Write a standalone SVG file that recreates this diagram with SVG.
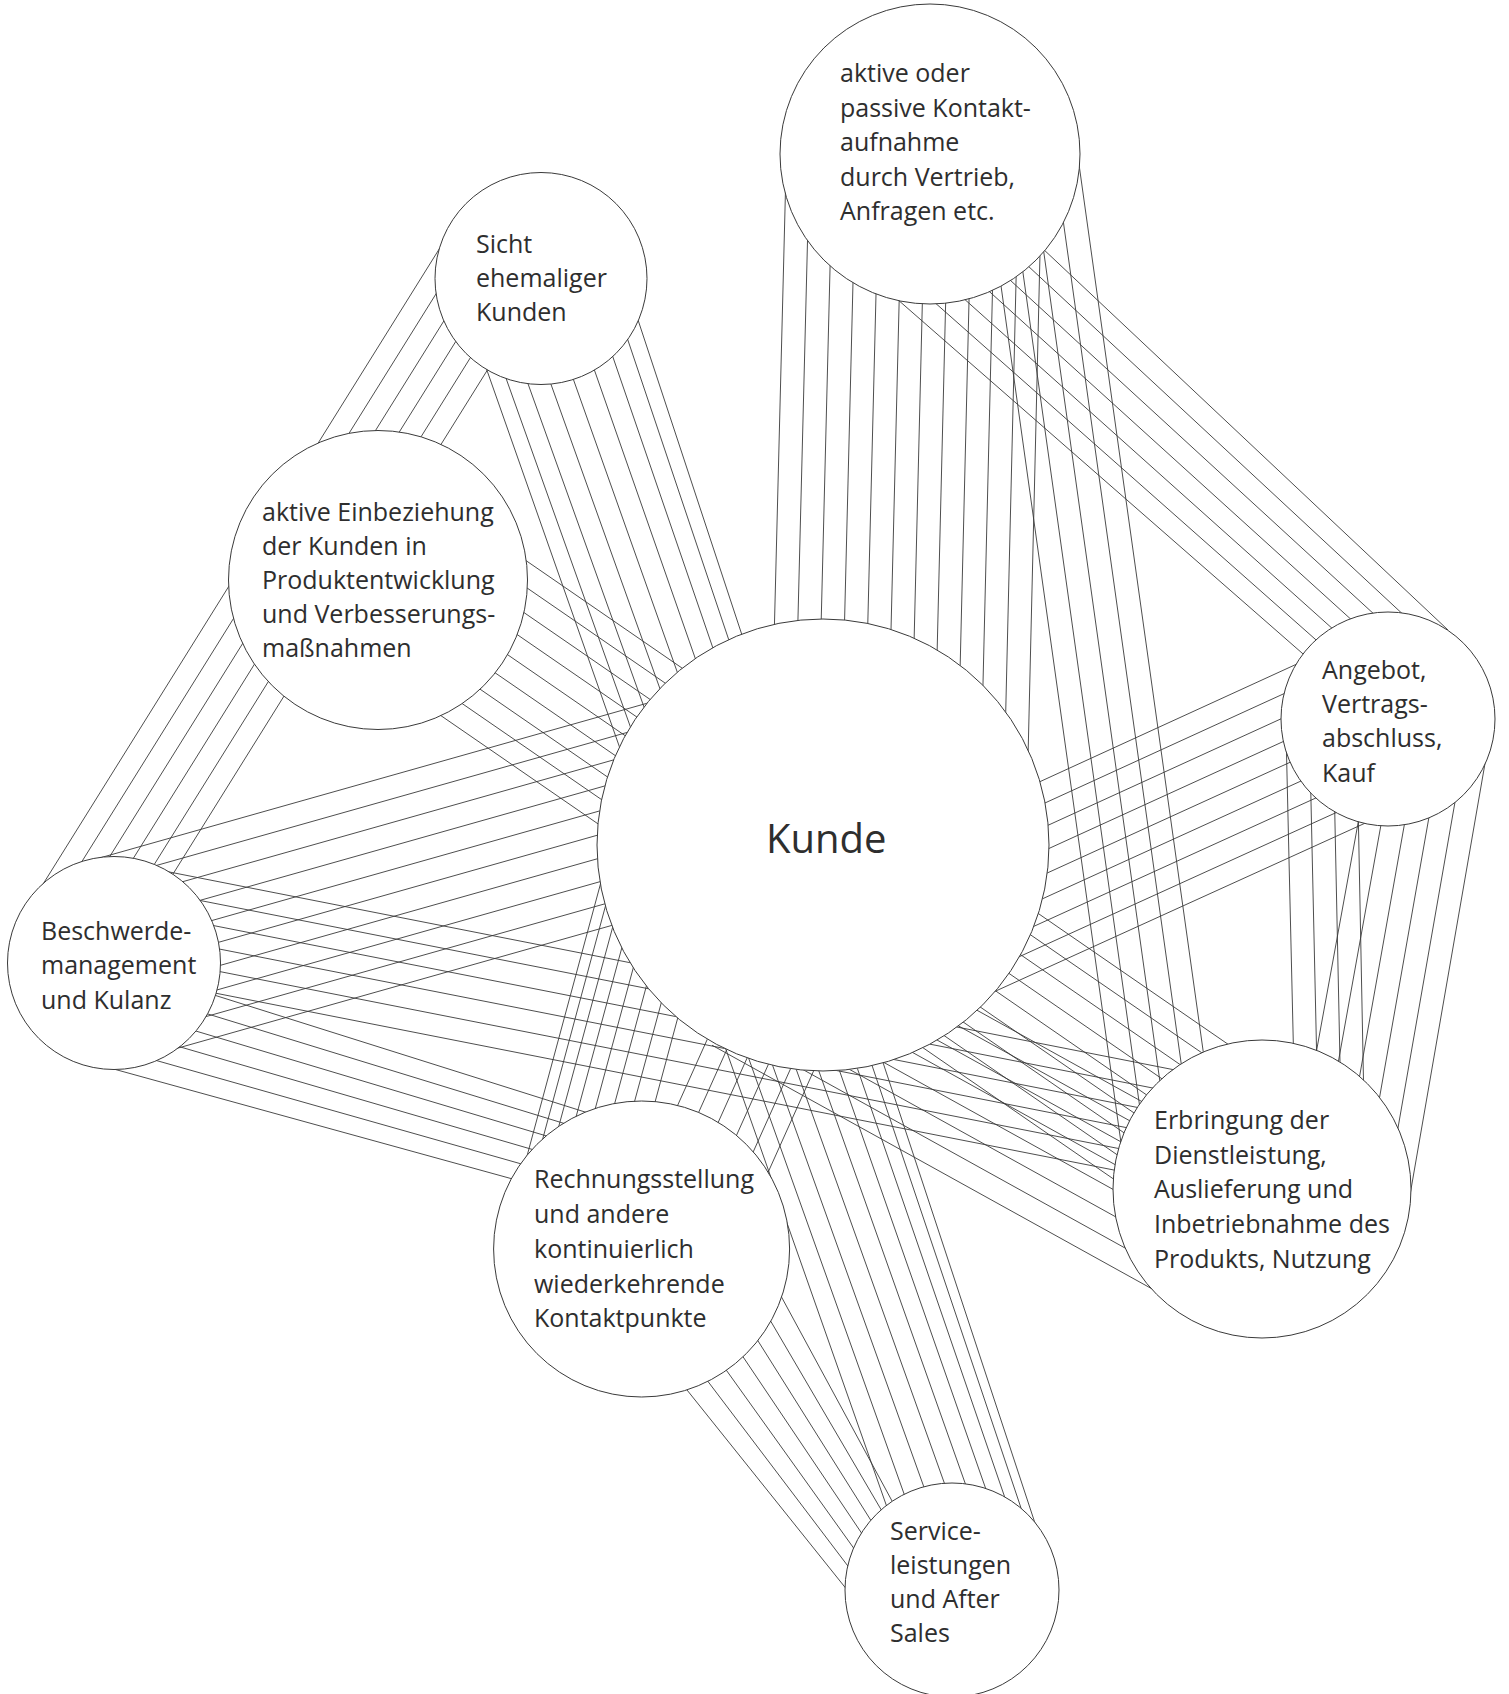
<svg xmlns="http://www.w3.org/2000/svg" width="1509" height="1694" viewBox="0 0 1509 1694">
<style>
.c{fill:none;stroke:#3a3a3a;stroke-width:0.9}
.n{fill:#fff;stroke:#3a3a3a;stroke-width:1}
.t{font-family:"Open Sans","Noto Sans","Liberation Sans",sans-serif;font-size:25px;fill:#2e2e2e}
.k{font-family:"Open Sans","Noto Sans","Liberation Sans",sans-serif;font-size:40px;fill:#2e2e2e}
</style>
<rect width="1509" height="1694" fill="#fff"/>
<g id="connectors">
<path id="tk" class="c" d="M786 170L770 800M809.3 170L793.4 800M832.5 170L816.7 800M855.8 170L840.1 800M879.1 170L863.4 800M902.4 170L886.8 800M925.6 170L910.2 800M948.9 170L933.5 800M972.2 170L956.9 800M995.4 170L980.2 800M1018.7 170L1003.6 800M1042 170L1027 800"/>
<path id="ta" class="c" d="M873 278L1326 674M898.2 270.2L1346.3 666.7M923.3 262.3L1366.7 659.3M948.5 254.5L1387 652M973.7 246.7L1407.3 644.7M998.8 238.8L1427.7 637.3M1024 231L1448 630"/>
<path id="td" class="c" d="M983.4 160L1123.4 1160M1007.2 160L1147.2 1160M1030.9 160L1170.9 1160M1054.7 160L1194.7 1160M1078.4 160L1218.4 1160"/>
<path id="ak" class="c" d="M1322 652.5L1003.6 798.3M1328.9 673.1L998.8 824.1M1335.8 693.8L993.9 850M1342.7 714.4L989.1 875.8M1349.7 735.1L984.3 901.7M1356.6 755.7L979.5 927.5M1363.5 776.3L974.6 953.3M1370.4 797L969.8 979.2M1377.3 817.6L965 1005"/>
<path id="ad1" class="c" d="M1286.2 740L1294 1073M1310.1 760.6L1317.3 1084.2M1334.1 781.1L1340.7 1095.5M1358 801.7L1364 1106.7"/>
<path id="ad2" class="c" d="M1361.9 802L1311.3 1079.5M1387 791.3L1331 1102.6M1412.2 780.6L1350.8 1125.7M1437.3 769.9L1370.5 1148.8M1462.5 759.2L1390.3 1171.9M1487.6 748.5L1410 1195"/>
<path id="kd" class="c" d="M712 1045.2L1193.8 1312M723 1025.3L1204.8 1292.2M734.1 1005.5L1215.8 1272.3M745.1 985.6L1226.8 1252.4M756.1 965.8L1237.8 1232.6M767.1 945.9L1248.9 1212.7M778.1 926L1259.9 1192.9M789.1 906.2L1270.9 1173"/>
<path id="sb" class="c" d="M454.5 224.5L27.5 909M472.3 235.7L45.3 920.2M490.1 246.8L63.1 931.3M507.9 257.9L80.9 942.4M525.7 269L98.7 953.5M543.5 280.1L116.5 964.6"/>
<path id="sv" class="c" d="M483.4 360.2L887.1 1507.5M503.5 371.2L904.9 1496.2M525.7 377.3L924.5 1488.7M548.8 378.2L945.1 1485.2M571.4 373.8L966.1 1485.9M592.4 364.3L986.5 1490.9M610.6 350.3L1005.6 1499.7M625.3 332.4L1022.4 1512.1M635.3 311.7L1036.5 1527.7"/>
<path id="ed" class="c" d="M434.7 497.7L1318.7 1106.7M422.3 515.8L1306.3 1124.8M409.8 533.9L1293.8 1142.9M397.3 552L1281.3 1161M384.8 570.1L1268.8 1179.1M372.3 588.2L1256.3 1197.2M359.9 606.4L1243.9 1215.4M347.4 624.5L1231.4 1233.5M334.9 642.6L1218.9 1251.6"/>
<path id="bk" class="c" d="M85.4 862L772.4 667.8M91.6 883.8L778.6 689.6M97.8 905.7L784.8 711.5M104 927.5L791 733.3M110.1 949.3L797.1 755.1M116.3 971.2L803.3 777M122.5 993L809.5 798.8M128.7 1014.9L815.7 820.7M134.8 1036.7L821.8 842.5M141 1058.5L828 864.3"/>
<path id="br" class="c" d="M110 1068L534 1184.9M127 1052.2L548 1171.5M144 1036.4L562 1158.1M161 1020.6L576 1144.8M178 1004.8L590 1131.4M195 989L604 1118"/>
<path id="bd" class="c" d="M133.3 864.9L1281.3 1090.9M129.1 886.5L1277.1 1112.5M124.8 908.1L1272.8 1134.1M120.6 929.6L1268.6 1155.6M116.3 951.2L1264.3 1177.2M112.1 972.8L1260.1 1198.8"/>
<path id="rk" class="c" d="M799.3 834.4L617.9 1238.4M819.4 843.4L638 1247.4M839.4 852.4L658 1256.4M859.5 861.4L678.1 1265.4M879.6 870.4L698.2 1274.4M899.6 879.4L718.2 1283.4"/>
<path id="rk2" class="c" d="M608.5 854.2L520.8 1179M613.5 876.2L536.5 1162M620.7 897.5L552.1 1151M629.9 918L569.5 1141M641.4 937.8L588.8 1132.5M654.5 956L608.2 1127.5M669.4 972.8L628.1 1125.3M685.8 988.1L648.7 1125.6"/>
<path id="rv" class="c" d="M675 1375L860 1606M691.7 1360L866.3 1590.3M708.3 1345L872.7 1574.7M725 1330L879 1559M741.7 1315L885.3 1543.3M758.3 1300L891.7 1527.7M775 1285L898 1512"/>
</g>
<g id="node-kontakt"><circle class="n" cx="930" cy="154" r="150"/>
<text class="t"><tspan x="840" y="82">aktive oder</tspan><tspan x="840" y="117">passive Kontakt-</tspan><tspan x="840" y="151">aufnahme</tspan><tspan x="840" y="186">durch Vertrieb,</tspan><tspan x="840" y="220">Anfragen etc.</tspan></text></g>
<g id="node-sicht"><circle class="n" cx="541" cy="278.5" r="106"/>
<text class="t"><tspan x="476" y="253">Sicht</tspan><tspan x="476" y="287">ehemaliger</tspan><tspan x="476" y="321">Kunden</tspan></text></g>
<g id="node-einbeziehung"><circle class="n" cx="378" cy="580" r="149.5"/>
<text class="t"><tspan x="262" y="521">aktive Einbeziehung</tspan><tspan x="262" y="555">der Kunden in</tspan><tspan x="262" y="589">Produktentwicklung</tspan><tspan x="262" y="623">und Verbesserungs-</tspan><tspan x="262" y="657">maßnahmen</tspan></text></g>
<g id="node-beschwerde"><circle class="n" cx="114" cy="963" r="106.5"/>
<text class="t"><tspan x="41" y="940">Beschwerde-</tspan><tspan x="41" y="974">management</tspan><tspan x="41" y="1009">und Kulanz</tspan></text></g>
<g id="node-rechnung"><circle class="n" cx="641.6" cy="1249" r="148"/>
<text class="t"><tspan x="534" y="1188">Rechnungsstellung</tspan><tspan x="534" y="1223">und andere</tspan><tspan x="534" y="1258">kontinuierlich</tspan><tspan x="534" y="1293">wiederkehrende</tspan><tspan x="534" y="1327">Kontaktpunkte</tspan></text></g>
<g id="node-service"><circle class="n" cx="952" cy="1590" r="107"/>
<text class="t"><tspan x="890" y="1540">Service-</tspan><tspan x="890" y="1574">leistungen</tspan><tspan x="890" y="1608">und After</tspan><tspan x="890" y="1642">Sales</tspan></text></g>
<g id="node-erbringung"><circle class="n" cx="1262" cy="1189" r="149"/>
<text class="t"><tspan x="1154" y="1129">Erbringung der</tspan><tspan x="1154" y="1164">Dienstleistung,</tspan><tspan x="1154" y="1198">Auslieferung und</tspan><tspan x="1154" y="1233">Inbetriebnahme des</tspan><tspan x="1154" y="1268">Produkts, Nutzung</tspan></text></g>
<g id="node-angebot"><circle class="n" cx="1388" cy="719" r="107"/>
<text class="t"><tspan x="1322" y="679">Angebot,</tspan><tspan x="1322" y="713">Vertrags-</tspan><tspan x="1322" y="747">abschluss,</tspan><tspan x="1322" y="782">Kauf</tspan></text></g>
<g id="node-kunde"><circle class="n" cx="823" cy="845" r="226"/>
<text class="k" x="766" y="853">Kunde</text></g>
</svg>
